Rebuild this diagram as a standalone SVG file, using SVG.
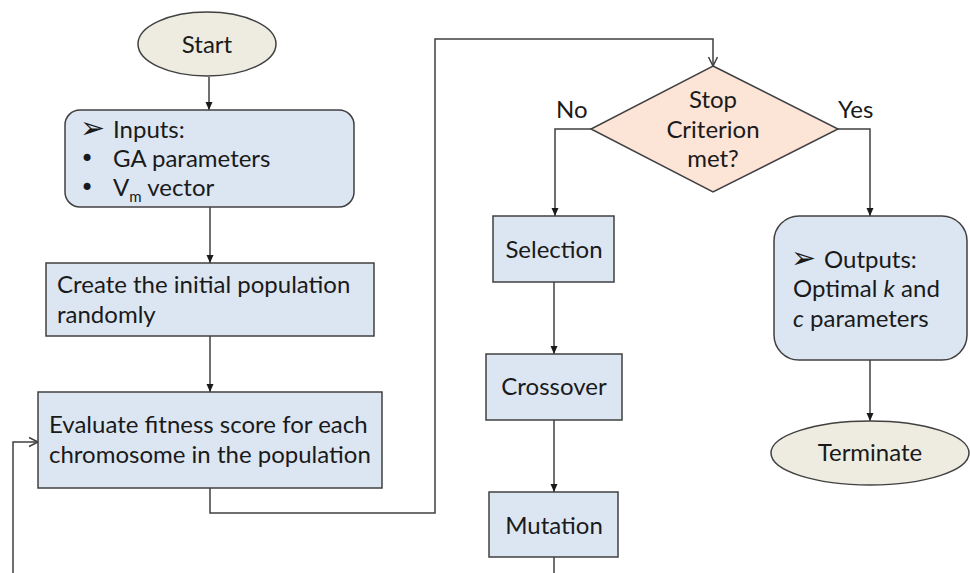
<svg xmlns="http://www.w3.org/2000/svg" width="970" height="573" viewBox="0 0 970 573">
<defs>
<style>
.box{fill:#dce6f2;stroke:#404040;stroke-width:1.5}
.term{fill:#eeece1;stroke:#404040;stroke-width:1.5}
.dec{fill:#fce4d6;stroke:#404040;stroke-width:1.5}
.ln{fill:none;stroke:#404040;stroke-width:1.5}
text{font-family:Lato,"Liberation Sans",sans-serif;font-size:24px;fill:#1a1a1a}
.c{text-anchor:middle}
.sym{font-family:"DejaVu Sans",sans-serif;font-size:30px}
.bul{font-family:"DejaVu Sans",sans-serif;font-size:24px}
</style>
<marker id="tri" markerUnits="userSpaceOnUse" markerWidth="10" markerHeight="10" refX="9" refY="5" orient="auto">
<path d="M1,1.5 L9,5 L1,8.5 Z" fill="#1a1a1a"/>
</marker>
<marker id="open" markerUnits="userSpaceOnUse" markerWidth="12" markerHeight="12" refX="10" refY="6" orient="auto">
<path d="M1,1.5 L10,6 L1,10.5" fill="none" stroke="#404040" stroke-width="1.5"/>
</marker>
</defs>
<rect width="970" height="573" fill="#ffffff"/>
<g id="connectors">
<path class="ln" d="M209,77 V110" marker-end="url(#tri)"/>
<path class="ln" d="M210,207 V263" marker-end="url(#tri)"/>
<path class="ln" d="M210,336 V392" marker-end="url(#tri)"/>
<path class="ln" d="M210,488 V513 H435 V39 H713 V66" marker-end="url(#open)"/>
<path class="ln" d="M591,129 H555 V216" marker-end="url(#tri)"/>
<path class="ln" d="M838,129 H870 V216" marker-end="url(#tri)"/>
<path class="ln" d="M554,282 V354" marker-end="url(#tri)"/>
<path class="ln" d="M554,420 V492" marker-end="url(#tri)"/>
<path class="ln" d="M554,557 V573"/>
<path class="ln" d="M870,360 V421" marker-end="url(#tri)"/>
<path class="ln" d="M13,573 V442 H38" marker-end="url(#open)"/>
<text x="556" y="118">No</text>
<text x="838" y="118">Yes</text>
</g>
<g id="start">
<ellipse class="term" cx="207" cy="44" rx="69" ry="32"/>
<text class="c" x="207" y="53">Start</text>
</g>
<g id="inputs">
<rect class="box" x="65" y="110" width="289" height="97" rx="15"/>
<text x="80" y="138"><tspan class="sym">➢</tspan><tspan x="113">Inputs:</tspan></text>
<text x="80" y="167"><tspan class="bul">•</tspan><tspan x="113">GA parameters</tspan></text>
<text x="80" y="196"><tspan class="bul">•</tspan><tspan x="113">V</tspan><tspan font-size="15" dy="6">m</tspan><tspan dy="-6"> vector</tspan></text>
</g>
<g id="create">
<rect class="box" x="46" y="263" width="328" height="73"/>
<text x="57" y="293">Create the initial population</text>
<text x="57" y="323">randomly</text>
</g>
<g id="evaluate">
<rect class="box" x="38" y="392" width="344" height="96"/>
<text x="49" y="433">Evaluate fitness score for each</text>
<text x="49" y="463">chromosome in the population</text>
</g>
<g id="decision">
<polygon class="dec" points="713,66 838,129 713,192 591,129"/>
<text class="c" x="713" y="108">Stop</text>
<text class="c" x="713" y="138">Criterion</text>
<text class="c" x="713" y="167">met?</text>
</g>
<g id="selection">
<rect class="box" x="493" y="216" width="121" height="66"/>
<text class="c" x="554" y="258">Selection</text>
</g>
<g id="crossover">
<rect class="box" x="486" y="354" width="136" height="66"/>
<text class="c" x="554" y="395">Crossover</text>
</g>
<g id="mutation">
<rect class="box" x="489" y="492" width="129" height="65"/>
<text class="c" x="554" y="534">Mutation</text>
</g>
<g id="outputs">
<rect class="box" x="774" y="216" width="193" height="144" rx="25"/>
<text x="791" y="268"><tspan class="sym">➢</tspan><tspan x="824">Outputs:</tspan></text>
<text x="793" y="297">Optimal <tspan font-style="italic">k</tspan> and</text>
<text x="793" y="327"><tspan font-style="italic">c</tspan> parameters</text>
</g>
<g id="terminate">
<ellipse class="term" cx="870" cy="453" rx="99" ry="32"/>
<text class="c" x="870" y="461">Terminate</text>
</g>
</svg>
